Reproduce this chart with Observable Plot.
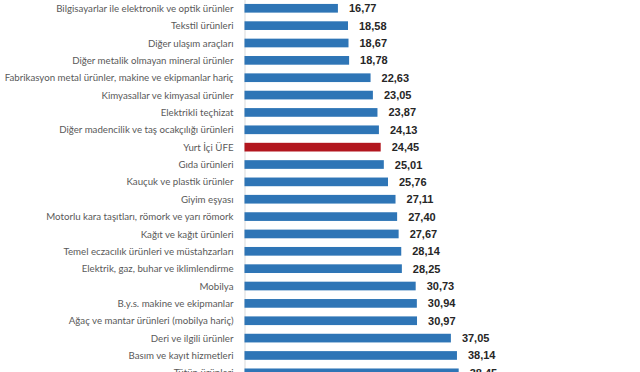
<!DOCTYPE html>
<html><head><meta charset="utf-8">
<script src="https://cdn.jsdelivr.net/npm/d3@7"></script>
<script src="https://cdn.jsdelivr.net/npm/@observablehq/plot@0.6"></script>
<style>body{margin:0;background:#fff;overflow:hidden}</style>
</head><body><div id="chart"></div>
<script>
const categories = [
  "Bilgisayarlar ile elektronik ve optik ürünler",
  "Tekstil ürünleri",
  "Diğer ulaşım araçları",
  "Diğer metalik olmayan mineral ürünler",
  "Fabrikasyon metal ürünler, makine ve ekipmanlar hariç",
  "Kimyasallar ve kimyasal ürünler",
  "Elektrikli teçhizat",
  "Diğer madencilik ve taş ocakçılığı ürünleri",
  "Yurt İçi ÜFE",
  "Gıda ürünleri",
  "Kauçuk ve plastik ürünler",
  "Giyim eşyası",
  "Motorlu kara taşıtları, römork ve yarı römork",
  "Kağıt ve kağıt ürünleri",
  "Temel eczacılık ürünleri ve müstahzarları",
  "Elektrik, gaz, buhar ve iklimlendirme",
  "Mobilya",
  "B.y.s. makine ve ekipmanlar",
  "Ağaç ve mantar ürünleri (mobilya hariç)",
  "Deri ve ilgili ürünler",
  "Basım ve kayıt hizmetleri",
  "Tütün ürünleri"
];
const values = [16.77, 18.58, 18.67, 18.78, 22.63, 23.05, 23.87, 24.13, 24.45, 25.01, 25.76, 27.11, 27.40, 27.67, 28.14, 28.25, 30.73, 30.94, 30.97, 37.05, 38.14, 38.45];
const highlight = "Yurt İçi ÜFE";

const data = categories.map((c, i) => ({category: c, value: values[i], kind: c === highlight ? "highlight" : "other"}));
const fmt = v => v.toFixed(2).replace(".", ",");

const chart = Plot.plot({
  width: 640,
  height: 372,
  marginLeft: 244.5,
  marginRight: 0,
  marginTop: 0,
  marginBottom: 0,
  style: {background: "#fff", fontFamily: "Lato, sans-serif", overflow: "hidden"},
  x: {domain: [0, 71], axis: null},
  y: {domain: categories, range: [-0.4, 381.5], paddingInner: 0.5, paddingOuter: 0.25, round: false, axis: null},
  color: {domain: ["other", "highlight"], range: ["#2E75B6", "#B2161E"]},
  marks: [
    Plot.ruleX([0], {stroke: "#d9d9d9"}),
    Plot.barX(data, {x: "value", y: "category", fill: "kind"}),
    Plot.text(data, {x: "value", y: "category", text: d => fmt(d.value), textAnchor: "start", dx: 10.5,
      fontWeight: "bold", fill: "#262626", fontSize: 11, fontFamily: "'Liberation Sans Narrow', 'Arial Narrow', sans-serif"}),
    Plot.axisY({tickSize: 0, tickPadding: 11.5, fontSize: 9.7, color: "#595959", label: null, fontFamily: "Lato, sans-serif"})
  ]
});
document.getElementById("chart").append(chart);
</script>
</body></html>
